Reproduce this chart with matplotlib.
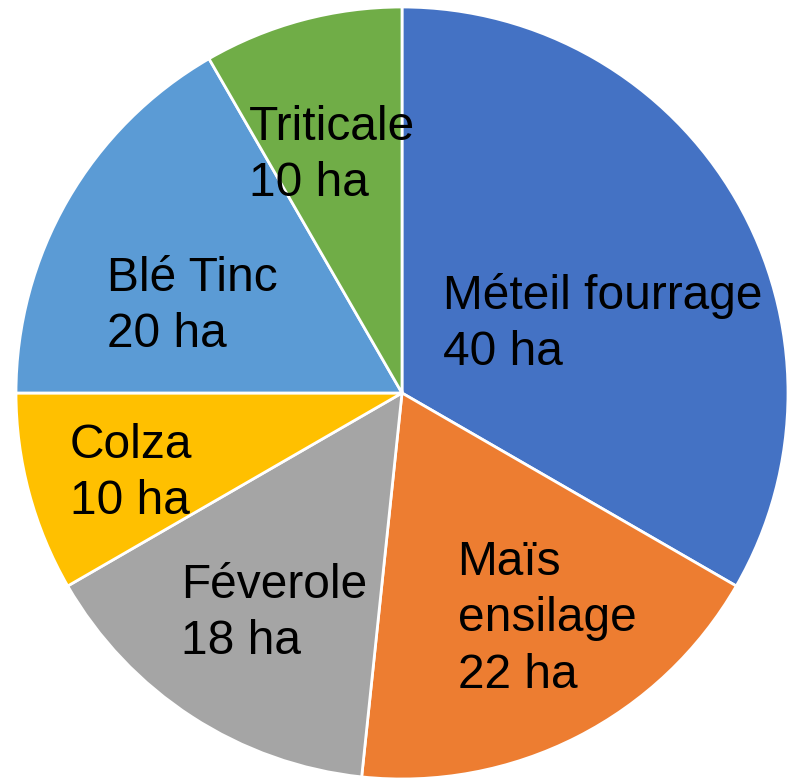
import matplotlib.pyplot as plt

plt.rcParams['font.family'] = ['Liberation Sans', 'DejaVu Sans']

cultures = ['Méteil fourrage', 'Maïs\nensilage', 'Féverole', 'Colza', 'Blé Tinc', 'Triticale']
surfaces = [40, 22, 18, 10, 20, 10]
couleurs = ['#4472C4', '#ED7D31', '#A5A5A5', '#FFC000', '#5B9BD5', '#70AD47']

# label anchor (left edge, vertical centre), in radius units
pos_labels = [(0.106, 0.178), (0.144, -0.585), (-0.572, -0.571),
              (-0.861, -0.209), (-0.765, 0.224), (-0.397, 0.616)]

fig = plt.figure(figsize=(7.94, 7.81), dpi=100)
ax = fig.add_axes([0, 0, 1, 1])
ax.pie(surfaces, colors=couleurs, startangle=90, counterclock=False,
       radius=1, wedgeprops=dict(edgecolor='white', linewidth=2))

for nom, ha_val, (x, y) in zip(cultures, surfaces, pos_labels):
    ax.text(x, y, '%s\n%d ha' % (nom, ha_val), ha='left', va='center',
            fontsize=34.5, linespacing=1.32, color='black')

r = 386
ax.set_xlim(-402 / r, (794 - 402) / r)
ax.set_ylim(-(781 - 393) / r, 393 / r)
ax.set_aspect('auto')
ax.axis('off')
fig.savefig('out.png', dpi=100)
